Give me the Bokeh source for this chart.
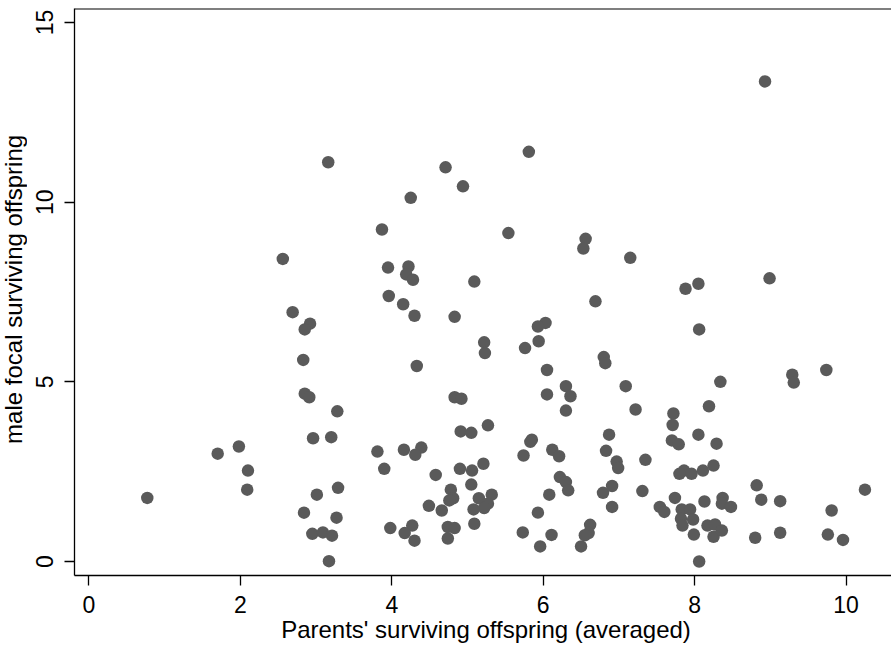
import math
from bokeh.plotting import figure
from bokeh.models import Range1d, FixedTicker, Label, Span
from bokeh.layouts import row
from bokeh.embed import file_html
from bokeh.resources import INLINE

# Parents' surviving offspring (averaged)
parents_x = [
    0.77, 1.70, 1.98, 2.10, 2.09,
    3.16, 4.71, 4.25, 3.87, 2.56, 3.95, 4.22, 4.19, 4.28, 3.96, 4.15, 4.30, 2.69,
    2.92, 2.85, 2.83, 4.33, 2.85, 2.91, 3.28,
    2.96, 3.20, 3.81, 4.16, 4.39, 4.31, 3.90, 4.58, 4.91, 5.05, 5.27, 4.90, 5.06,
    5.21, 5.05, 4.78, 4.81, 4.76, 5.15, 5.32, 5.27, 5.22, 5.08, 4.49, 4.66, 5.09,
    4.74, 4.83, 4.74, 3.98, 4.27, 4.17, 4.30, 3.01, 3.29, 2.84, 3.27, 2.95, 3.09,
    3.21, 3.17,
    5.81, 4.94, 5.54, 6.56, 6.53, 7.15, 7.88, 5.09, 6.69, 4.83, 6.03, 5.93, 5.94,
    5.76, 5.22, 5.23, 6.05, 6.80, 6.82, 7.09, 6.30, 6.05, 6.36, 4.83, 4.92, 6.30,
    7.22, 7.72,
    7.71, 8.19, 5.85, 5.83, 5.74, 6.12, 6.21, 6.87, 6.83, 6.97, 6.99, 7.35, 7.70,
    7.79, 8.05, 8.29, 6.22, 6.30, 6.33, 6.08, 5.93, 5.73, 6.11, 5.96, 6.79, 6.91,
    6.91, 7.31, 6.62, 6.60, 6.55, 6.50, 7.86, 7.80, 7.96, 8.11, 8.25, 7.74, 8.13,
    7.54, 7.60, 7.83, 7.94, 7.82, 7.98, 7.84, 8.17, 8.27, 8.25, 7.99, 8.06,
    8.37, 8.36, 8.48, 8.82, 8.88, 9.13, 9.81, 10.25, 8.36, 8.80, 9.13, 9.76, 9.96,
    8.93, 8.99, 8.05, 8.06, 9.29, 9.31, 9.74, 8.34,
]

# male focal surviving offspring
male_y = [
    1.77, 3.00, 3.20, 2.53, 2.00,
    11.11, 10.97, 10.12, 9.24, 8.42, 8.18, 8.21, 7.99, 7.84, 7.39, 7.16, 6.84, 6.94,
    6.62, 6.46, 5.61, 5.44, 4.67, 4.57, 4.18,
    3.43, 3.46, 3.06, 3.11, 3.17, 2.97, 2.58, 2.41, 3.62, 3.58, 3.79, 2.58, 2.53,
    2.72, 2.14, 2.00, 1.76, 1.70, 1.76, 1.86, 1.61, 1.49, 1.45, 1.55, 1.42, 1.05,
    0.96, 0.93, 0.64, 0.93, 1.00, 0.79, 0.58, 1.86, 2.05, 1.36, 1.22, 0.77, 0.81,
    0.72, 0.01,
    11.40, 10.44, 9.14, 8.98, 8.71, 8.45, 7.59, 7.79, 7.24, 6.81, 6.64, 6.54, 6.13,
    5.94, 6.10, 5.80, 5.33, 5.69, 5.52, 4.88, 4.88, 4.65, 4.60, 4.57, 4.53, 4.20,
    4.23, 4.12,
    3.80, 4.32, 3.39, 3.33, 2.95, 3.11, 2.93, 3.53, 3.08, 2.78, 2.60, 2.83, 3.37,
    3.26, 3.53, 3.28, 2.35, 2.21, 1.98, 1.86, 1.36, 0.81, 0.74, 0.42, 1.91, 2.10,
    1.52, 1.96, 1.02, 0.79, 0.73, 0.42, 2.53, 2.44, 2.44, 2.53, 2.67, 1.77, 1.67,
    1.52, 1.38, 1.45, 1.45, 1.19, 1.17, 1.00, 1.00, 1.03, 0.69, 0.75, 0.00,
    1.77, 1.61, 1.52, 2.12, 1.72, 1.68, 1.42, 2.00, 0.86, 0.66, 0.80, 0.75, 0.60,
    13.36, 7.88, 7.73, 6.46, 5.20, 4.98, 5.33, 5.00,
]

x_ticks = [0, 2, 4, 6, 8, 10]
y_ticks = [0, 5, 10, 15]
x_title = "Parents' surviving offspring (averaged)"
y_title = "male focal surviving offspring"

FONT = "Liberation Sans"
Y_TOP = 15.39
X_END = 10.680

# narrow strip holding the y-axis title
title_strip = figure(
    width=27, height=648, output_backend="svg", toolbar_location=None,
    x_range=Range1d(0, 27), y_range=Range1d(0, 648),
    x_axis_location=None, y_axis_location=None, min_border=0,
    background_fill_color="white", border_fill_color="white",
)
title_strip.grid.visible = False
title_strip.outline_line_color = None
title_strip.add_layout(Label(x=13, y=327, text=y_title, angle=math.pi / 2,
                             text_align="center", text_baseline="middle",
                             text_font=FONT, text_font_size="24px",
                             text_color="black"))

# main plot: its frame runs a few pixels past the visible page, like the reference
p = figure(
    width=870, height=648,
    output_backend="svg", toolbar_location=None,
    x_range=Range1d(-0.1915, X_END), y_range=Range1d(-0.3896, Y_TOP),
    min_border_left=47, min_border_right=0, min_border_top=8, min_border_bottom=73,
    background_fill_color="white", border_fill_color="white",
)
p.grid.visible = False
p.outline_line_color = None

p.scatter(parents_x, male_y, size=12.5, fill_color="#5a5a5a", line_color=None)

p.xaxis.ticker = FixedTicker(ticks=x_ticks, minor_ticks=[])
p.yaxis.ticker = FixedTicker(ticks=y_ticks, minor_ticks=[])

for ax in (p.xaxis[0], p.yaxis[0]):
    ax.axis_line_color = "black"
    ax.axis_line_width = 1.3
    ax.major_tick_line_color = "black"
    ax.major_tick_line_width = 1.3
    ax.major_tick_in = 0
    ax.major_tick_out = 10
    ax.minor_tick_line_color = None
    ax.major_label_text_font = FONT
    ax.major_label_text_font_size = "23px"
    ax.major_label_text_color = "black"
    ax.axis_label_text_font = FONT
    ax.axis_label_text_font_size = "24px"
    ax.axis_label_text_font_style = "normal"
    ax.axis_label_text_color = "black"
    ax.axis_label_standoff = 0

p.xaxis.axis_label = x_title
p.xaxis.major_label_standoff = 10
p.yaxis.major_label_standoff = 11
p.yaxis.major_label_orientation = "vertical"

# top frame line
p.add_layout(Span(location=Y_TOP, dimension="width", line_color="black",
                  line_width=2))

layout = row(title_strip, p, width=891, height=648,
             styles={"overflow": "hidden"})

open("out.html", "w").write(file_html(layout, INLINE))
